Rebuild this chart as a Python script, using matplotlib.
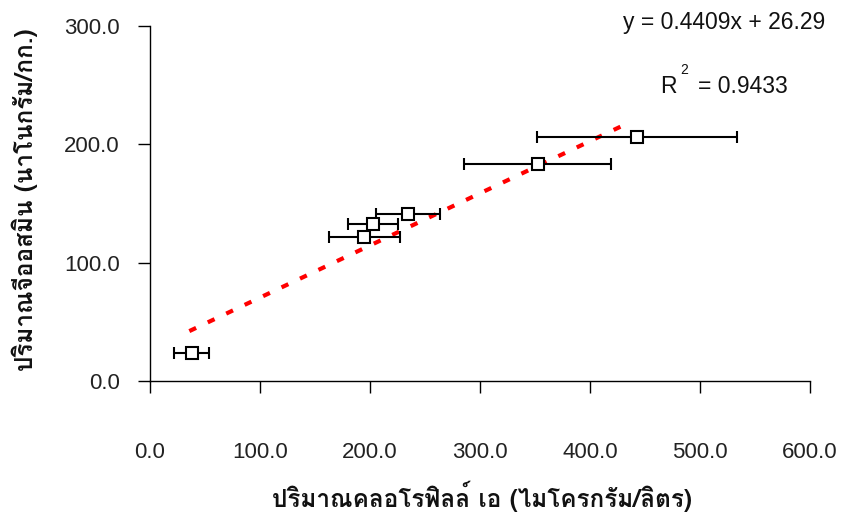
import matplotlib
matplotlib.use("Agg")
import matplotlib.pyplot as plt
import numpy as np

# Measurements: chlorophyll a (x) vs. geosmin (y), with horizontal std. errors
chl_a = [38.2, 195.0, 203.0, 234.5, 352.5, 442.5]
chl_a_err = [15.9, 32.0, 22.5, 29.3, 66.8, 91.0]
geosmin = [23.4, 121.4, 132.9, 141.4, 183.1, 206.2]

# Linear trend line as reported
slope = 0.4409
intercept = 26.29
r_squared = 0.9433
trend_x_range = [36.0, 432.0]

x_ticks = [0, 100, 200, 300, 400, 500, 600]
y_ticks = [0, 100, 200, 300]

x_label = "ปริมาณคลอโรฟิลล์ เอ (ไมโครกรัม/ลิตร)"
y_label = "ปริมาณจีออสมิน (นาโนกรัม/กก.)"

W, H = 843, 513
fig = plt.figure(figsize=(W / 100, H / 100), dpi=100)
ax = fig.add_axes([149.7 / W, 1 - 381 / H, (810 - 149.7) / W, (381 - 26) / H])

num_font = ["Liberation Sans", "DejaVu Sans"]
thai_font = ["Loma", "Noto Sans Thai", "DejaVu Sans"]

# trend line
tx = np.array(trend_x_range)
ax.plot(tx, slope * tx + intercept, color="#ff0000", lw=3.0,
        dashes=(1.8, 3.1), solid_capstyle="butt", dash_capstyle="butt", zorder=2)

# data points with horizontal error bars
ax.errorbar(chl_a, geosmin, xerr=chl_a_err, fmt="s", ms=9, mfc="white",
            mec="black", mew=1.5, ecolor="black", elinewidth=1.5,
            capsize=4.6, capthick=1.5, zorder=3)

ax.set_xlim(0, 600)
ax.set_ylim(0, 300)
ax.set_xticks(x_ticks)
ax.set_yticks(y_ticks)
ax.set_xticklabels([f"{v:.1f}" for v in x_ticks], family=num_font, fontsize=16, color="#222222")
ax.set_yticklabels([f"{v:.1f}" for v in y_ticks], family=num_font, fontsize=16, color="#222222")
ax.tick_params(axis="x", direction="out", length=8.6, width=1.0, pad=35, color="black")
ax.tick_params(axis="y", direction="out", length=8.6, width=1.0, pad=13, color="black")

for side in ("top", "right"):
    ax.spines[side].set_visible(False)
for side in ("left", "bottom"):
    ax.spines[side].set_color("black")
    ax.spines[side].set_linewidth(1.0)

# equation and R-squared
fig.text(724 / W, 1 - 22 / H, f"y = {slope:.4f}x + {intercept:.2f}", family=num_font,
         fontsize=16.5, ha="center", va="center", color="#111111")
fig.text(660 / W, 1 - 87 / H, "R", family=num_font, fontsize=16.5,
         ha="left", va="center", color="#111111")
fig.text(680 / W, 1 - 70.5 / H, "2", family=num_font, fontsize=10,
         ha="left", va="center", color="#111111")
fig.text(743 / W, 1 - 87 / H, f"= {r_squared:.4f}", family=num_font, fontsize=16.5,
         ha="center", va="center", color="#111111")

# axis titles
fig.text(482 / W, 1 - 496 / H, x_label, family=thai_font, fontsize=17.5,
         fontweight="bold", ha="center", va="center", color="#111111")
fig.text(25 / W, 1 - 200 / H, y_label, family=thai_font, fontsize=17.5,
         fontweight="bold", ha="center", va="center", rotation=90, color="#111111")

fig.savefig("out.png", dpi=100, facecolor="white")
